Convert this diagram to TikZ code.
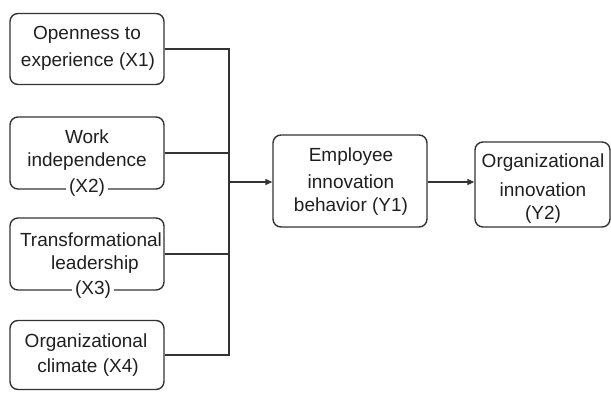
\documentclass[tikz,border=0pt]{standalone}
\usepackage{fontspec}
\setmainfont{Liberation Sans}
\usetikzlibrary{arrows.meta}
\begin{document}
\begin{tikzpicture}[x=1pt,y=-1pt,
  box/.style={draw=black!80,line width=1.4pt,rounded corners=8pt},
  lbl/.style={inner sep=0pt,font=\fontsize{19}{22}\selectfont,text=black!88},
  wire/.style={draw=black!80,line width=1.4pt},
  arr/.style={wire,-{Triangle[length=7pt,width=6pt]}}]
\useasboundingbox (0,0) rectangle (611,392);
% boxes
\node[box,minimum width=154pt,minimum height=71pt] (x1) at (87,49) {};
\node[box,minimum width=154pt,minimum height=72pt] (x2) at (87,153) {};
\node[box,minimum width=154pt,minimum height=72pt] (x3) at (87,254) {};
\node[box,minimum width=154pt,minimum height=69pt] (x4) at (87,355) {};
\node[box,minimum width=154pt,minimum height=92pt] (y1) at (350,181) {};
\node[box,minimum width=135pt,minimum height=85pt] (y2) at (542.5,184.5) {};
% labels
\node[lbl] (t1a) at (87,35) {Openness to};
\node[lbl] (t1b) at (88,62) {experience (X1)};
\node[lbl] (t2a) at (87,137) {Work};
\node[lbl] (t2b) at (87,162) {independence};
\node[lbl,fill=white,inner xsep=3pt] (t2c) at (87,188) {(X2)};
\node[lbl] (t3a) at (91,240) {Transformational};
\node[lbl] (t3b) at (95,265) {leadership};
\node[lbl,fill=white,inner xsep=3pt] (t3c) at (93,290) {(X3)};
\node[lbl] (t4a) at (86,343) {Organizational};
\node[lbl] (t4b) at (88,368) {climate (X4)};
\node[lbl] (t5a) at (351,157) {Employee};
\node[lbl] (t5b) at (351,182) {innovation};
\node[lbl] (t5c) at (351,207) {behavior (Y1)};
\node[lbl] (t6a) at (543,163) {Organizational};
\node[lbl] (t6b) at (543,190) {innovation};
\node[lbl] (t6c) at (543,215) {(Y2)};
% connectors
\coordinate (bt) at (229,49);
\coordinate (bm) at (229,182);
\draw[wire] (x1.east) -- (x1.east -| bt) -- (x4.east -| bt) -- (x4.east);
\draw[wire] (x2.east) -- (x2.east -| bt);
\draw[wire] (x3.east) -- (x3.east -| bt);
\draw[arr] (bm) -- (y1.west |- bm);
\draw[arr] (y1.east |- bm) -- (y2.west |- bm);
\end{tikzpicture}
\end{document}
